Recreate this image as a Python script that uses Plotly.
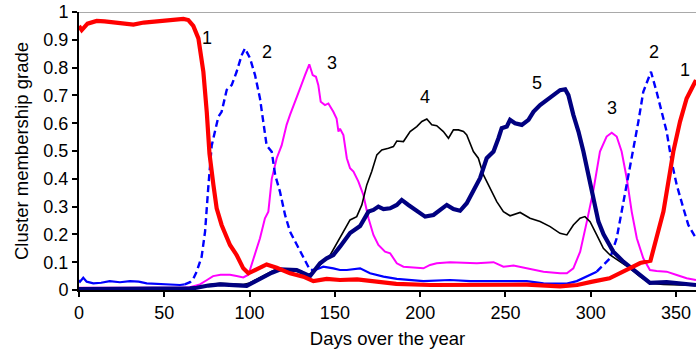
import plotly.graph_objects as go

# ---------------- data ----------------
red_days = [0, 1.6, 5, 10.4, 15, 20, 26, 31.9, 38, 43.6, 48, 53.4, 58, 61.2, 64.1, 67, 70, 72.9, 74.9, 76.5,
            78.8, 80.7, 83.6, 88.5, 92.4, 96.3, 99.3, 103.2, 110, 115.9, 119.6, 123.7, 131.5, 137.4, 145.2,
            153, 163, 176.5, 186, 206, 225, 245, 262.6, 282, 292, 301, 311, 321, 329, 335, 338.6, 342.6,
            346.5, 348.4, 352.3, 356.2, 359.2, 361.7]
red_vals = [0.95, 0.935, 0.958, 0.968, 0.966, 0.963, 0.96, 0.955, 0.962, 0.965, 0.967, 0.969, 0.972, 0.975,
            0.971, 0.95, 0.905, 0.785, 0.64, 0.49, 0.378, 0.294, 0.234, 0.162, 0.126, 0.078, 0.06, 0.072,
            0.092, 0.08, 0.072, 0.06, 0.048, 0.032, 0.04, 0.036, 0.038, 0.03, 0.022, 0.018, 0.018, 0.02,
            0.019, 0.013, 0.018, 0.03, 0.042, 0.072, 0.097, 0.105, 0.186, 0.282, 0.426, 0.498, 0.605,
            0.689, 0.725, 0.755]

blue_days = [0, 0.6, 2.5, 4.5, 8.4, 13, 18, 24, 29.9, 35, 39.7, 45, 49.4, 55, 59.2, 62, 65.1, 67, 69, 71.9,
             73.9, 75.8, 77.8, 79.7, 81.7, 83.6, 86.6, 89.5, 92.4, 95.4, 97.3, 100.3, 103.2, 106.1, 108.1,
             110, 113, 115, 117.8, 120.8, 123.7, 127.6, 131.5, 135.4, 138.4, 143.2, 149.1, 153, 157, 164.8,
             170.6, 178.5, 186.3, 201.9, 217.5, 229.3, 243, 262.5, 272.3, 286, 291.8, 297.7, 303.5, 307.5,
             311.3, 315.2, 318.1, 322, 325, 327.9, 330.8, 335.3, 338.6, 341.6, 344.5, 347.4, 350.4, 354.3,
             357.2, 361.7]
blue_vals = [0.035, 0.03, 0.044, 0.03, 0.024, 0.026, 0.032, 0.028, 0.032, 0.03, 0.024, 0.022, 0.02, 0.02,
             0.018, 0.02, 0.028, 0.04, 0.066, 0.12, 0.21, 0.37, 0.52, 0.57, 0.623, 0.641, 0.72, 0.737,
             0.785, 0.845, 0.869, 0.833, 0.773, 0.689, 0.605, 0.52, 0.497, 0.414, 0.354, 0.27, 0.21, 0.162,
             0.114, 0.072, 0.072, 0.084, 0.078, 0.072, 0.072, 0.078, 0.06, 0.048, 0.04, 0.032, 0.036,
             0.032, 0.032, 0.032, 0.024, 0.023, 0.032, 0.048, 0.066, 0.09, 0.114, 0.186, 0.282, 0.40,
             0.51, 0.605, 0.713, 0.785, 0.713, 0.641, 0.57, 0.462, 0.378, 0.294, 0.234, 0.186]

mag_days = [0, 10, 20, 30, 40, 50, 60, 65, 70.9, 74.8, 78.6, 83, 88.5, 92.4, 96.3, 99.3, 102.2, 106.1, 109,
            111, 113, 115.9, 118.8, 121.7, 123.7, 127.6, 129.6, 132.5, 135, 137, 138.9, 140.3, 141.7,
            144.2, 146.2, 149.1, 151, 152.1, 153, 155, 157, 158.9, 160.9, 163.8, 166.7, 169.7, 172.6,
            175.5, 179.4, 182.4, 186.3, 190.2, 196.1, 201.9, 205.8, 209.7, 217.5, 223.4, 233.2, 243,
            248.8, 254.7, 262.5, 272.3, 282, 286, 289.8, 293.8, 297.7, 301.6, 305.4, 309.3, 312.3, 315.2,
            318.1, 321.1, 324, 327, 330.8, 334.7, 338.6, 344.5, 350.4, 356.2, 361.7]
mag_vals = [0.008, 0.008, 0.007, 0.008, 0.008, 0.008, 0.008, 0.01, 0.02, 0.035, 0.05, 0.055, 0.055, 0.05,
            0.045, 0.055, 0.114, 0.186, 0.258, 0.282, 0.40, 0.474, 0.52, 0.594, 0.63, 0.689, 0.725, 0.773,
            0.812, 0.773, 0.767, 0.737, 0.677, 0.665, 0.671, 0.641, 0.617, 0.57, 0.58, 0.557, 0.474,
            0.438, 0.426, 0.39, 0.342, 0.258, 0.198, 0.162, 0.138, 0.132, 0.096, 0.084, 0.082, 0.078,
            0.09, 0.096, 0.1, 0.098, 0.096, 0.1, 0.084, 0.088, 0.078, 0.066, 0.06, 0.06, 0.078, 0.138,
            0.246, 0.36, 0.498, 0.552, 0.566, 0.552, 0.498, 0.402, 0.282, 0.186, 0.114, 0.072, 0.068,
            0.066, 0.054, 0.042, 0.036]

blk_days = [0, 20, 40, 60, 65, 70, 76.8, 82.7, 90.5, 96.3, 100, 106, 110, 114, 117.8, 123.7, 129.6, 135.4,
            139.3, 143, 147.2, 151.1, 155, 158.9, 162.8, 165.8, 168.7, 171.6, 174.6, 177.5, 181.4, 184.3,
            186.3, 190.2, 194.1, 198, 201, 203.9, 206.8, 209.7, 213.6, 216.6, 219.5, 222.4, 225.4, 227.3,
            231.2, 234.1, 237.1, 241, 244.9, 248.8, 252.7, 258.6, 264.4, 270.3, 276.2, 282, 286, 289.8,
            293.7, 296.6, 299.6, 303.5, 307.4, 311.3, 317.2, 323, 328.9, 334.7, 342.6, 352.3, 361.7]
blk_vals = [0.003, 0.003, 0.003, 0.003, 0.005, 0.01, 0.02, 0.024, 0.022, 0.02, 0.025, 0.045, 0.058, 0.07,
            0.077, 0.072, 0.065, 0.055, 0.08, 0.1, 0.125, 0.168, 0.21, 0.252, 0.264, 0.306, 0.378, 0.426,
            0.486, 0.504, 0.51, 0.516, 0.536, 0.534, 0.57, 0.588, 0.606, 0.615, 0.594, 0.591, 0.57, 0.546,
            0.576, 0.576, 0.57, 0.558, 0.498, 0.474, 0.414, 0.366, 0.318, 0.282, 0.267, 0.279, 0.258,
            0.246, 0.228, 0.204, 0.198, 0.234, 0.258, 0.264, 0.246, 0.198, 0.15, 0.126, 0.102, 0.078,
            0.048, 0.024, 0.02, 0.018, 0.016]

navy_days = [0, 20, 40, 60, 65, 69, 75.8, 82.7, 90.5, 96.3, 98.3, 103, 108, 113, 117.8, 122, 127.6, 131,
             135.4, 138, 141.3, 145.2, 149.1, 153, 158.9, 164.8, 169.7, 172.6, 175.5, 178.5, 182.4, 186.3,
             189.2, 193.1, 198, 202.9, 207.8, 211.7, 215.6, 219.5, 223.4, 227.3, 231.2, 235.1, 239, 243,
             245.9, 247.8, 250.8, 252.7, 255.6, 259.6, 263.5, 266.4, 270.3, 274.2, 278.1, 282, 285, 286.9,
             289.8, 292.8, 295.7, 298.6, 301.6, 304.5, 307.5, 310, 313.2, 319.1, 325, 330.8, 334.7, 344.5,
             352.3, 361.7]
navy_vals = [0.003, 0.003, 0.003, 0.004, 0.006, 0.008, 0.016, 0.02, 0.018, 0.016, 0.015, 0.03, 0.048,
             0.062, 0.074, 0.074, 0.072, 0.062, 0.05, 0.07, 0.096, 0.114, 0.126, 0.156, 0.205, 0.23, 0.282,
             0.288, 0.30, 0.291, 0.294, 0.306, 0.324, 0.306, 0.284, 0.264, 0.27, 0.288, 0.306, 0.291,
             0.285, 0.312, 0.36, 0.402, 0.474, 0.498, 0.546, 0.582, 0.588, 0.612, 0.6, 0.594, 0.612, 0.641,
             0.665, 0.683, 0.704, 0.719, 0.722, 0.701, 0.63, 0.57, 0.498, 0.414, 0.318, 0.246, 0.2, 0.17,
             0.138, 0.102, 0.072, 0.042, 0.026, 0.028, 0.024, 0.018]

# curve labels
label_text = ["1", "2", "3", "4", "5", "3", "2", "1"]
label_x = [75.0, 110.1, 148.2, 202.9, 268.7, 312.3, 337.1, 355.3]
label_y = [0.906, 0.857, 0.818, 0.695, 0.744, 0.653, 0.857, 0.791]

x_ticks = [0, 50, 100, 150, 200, 250, 300, 350]
y_ticks = [0, 0.1, 0.2, 0.3, 0.4, 0.5, 0.6, 0.7, 0.8, 0.9, 1]

# ranges where the dashed blue line shows visible gaps (steep parts)
blue_dash_ranges = [(62, 135.4), (303.5, 400)]

FONT = "Liberation Sans, Arial, sans-serif"

# split blue series into solid / dashed parts
def in_dash(d):
    return any(a <= d <= b for a, b in blue_dash_ranges)

bs_x, bs_y, bd_x, bd_y = [], [], [], []
prev = None
for d, v in zip(blue_days, blue_vals):
    dash = in_dash(d)
    if dash:
        bd_x.append(d); bd_y.append(v)
    else:
        if bd_x and bd_x[-1] is not None and prev is not None and in_dash(prev[0]):
            bd_x.append(d); bd_y.append(v)
            bd_x.append(None); bd_y.append(None)
        bs_x.append(d); bs_y.append(v)
    if dash and prev is not None and not in_dash(prev[0]):
        bs_x.append(d); bs_y.append(v)
        bs_x.append(None); bs_y.append(None)
    prev = (d, v)

fig = go.Figure()
fig.add_trace(go.Scatter(x=mag_days, y=mag_vals, mode="lines",
                         line=dict(color="#ff00ff", width=2), name="3"))
fig.add_trace(go.Scatter(x=bs_x, y=bs_y, mode="lines", connectgaps=False,
                         line=dict(color="#0000ff", width=2.2), name="2"))
fig.add_trace(go.Scatter(x=bd_x, y=bd_y, mode="lines", connectgaps=False,
                         line=dict(color="#0000ff", width=2.4, dash="7px,4px"), name="2d"))
fig.add_trace(go.Scatter(x=blk_days, y=blk_vals, mode="lines",
                         line=dict(color="#000000", width=1.6), name="4"))
fig.add_trace(go.Scatter(x=navy_days, y=navy_vals, mode="lines",
                         line=dict(color="#000080", width=4.2), name="5"))
fig.add_trace(go.Scatter(x=red_days, y=red_vals, mode="lines",
                         line=dict(color="#ff0000", width=4.2), name="1"))

for t, x, y in zip(label_text, label_x, label_y):
    fig.add_annotation(x=x, y=y, text=t, showarrow=False,
                       font=dict(family=FONT, size=18, color="black"))

fig.add_shape(type="line", xref="paper", x0=0, x1=1, yref="y", y0=1, y1=1,
              line=dict(color="#8c8c8c", width=1.5), layer="above")

fig.update_layout(
    width=696, height=352,
    margin=dict(l=79, r=0, t=12, b=62),
    paper_bgcolor="white", plot_bgcolor="white",
    showlegend=False,
    font=dict(family=FONT, size=18, color="black"),
    xaxis=dict(range=[0, 361.7], tickvals=x_ticks, ticks="outside", ticklen=5, tickwidth=1.5,
               tickcolor="black", showline=True, linecolor="black", linewidth=2,
               showgrid=False, zeroline=False, tickfont=dict(size=18),
               title=dict(text="Days over the year", font=dict(size=18.5), standoff=10)),
    yaxis=dict(range=[0, 1], tickvals=y_ticks, ticks="outside", ticklen=5, tickwidth=1.5,
               tickcolor="black", showline=True, linecolor="black", linewidth=2,
               showgrid=False, zeroline=False, tickfont=dict(size=18),
               title=dict(text="Cluster membership grade", font=dict(size=18.5), standoff=10)),
)

fig.write_html("out.html")
